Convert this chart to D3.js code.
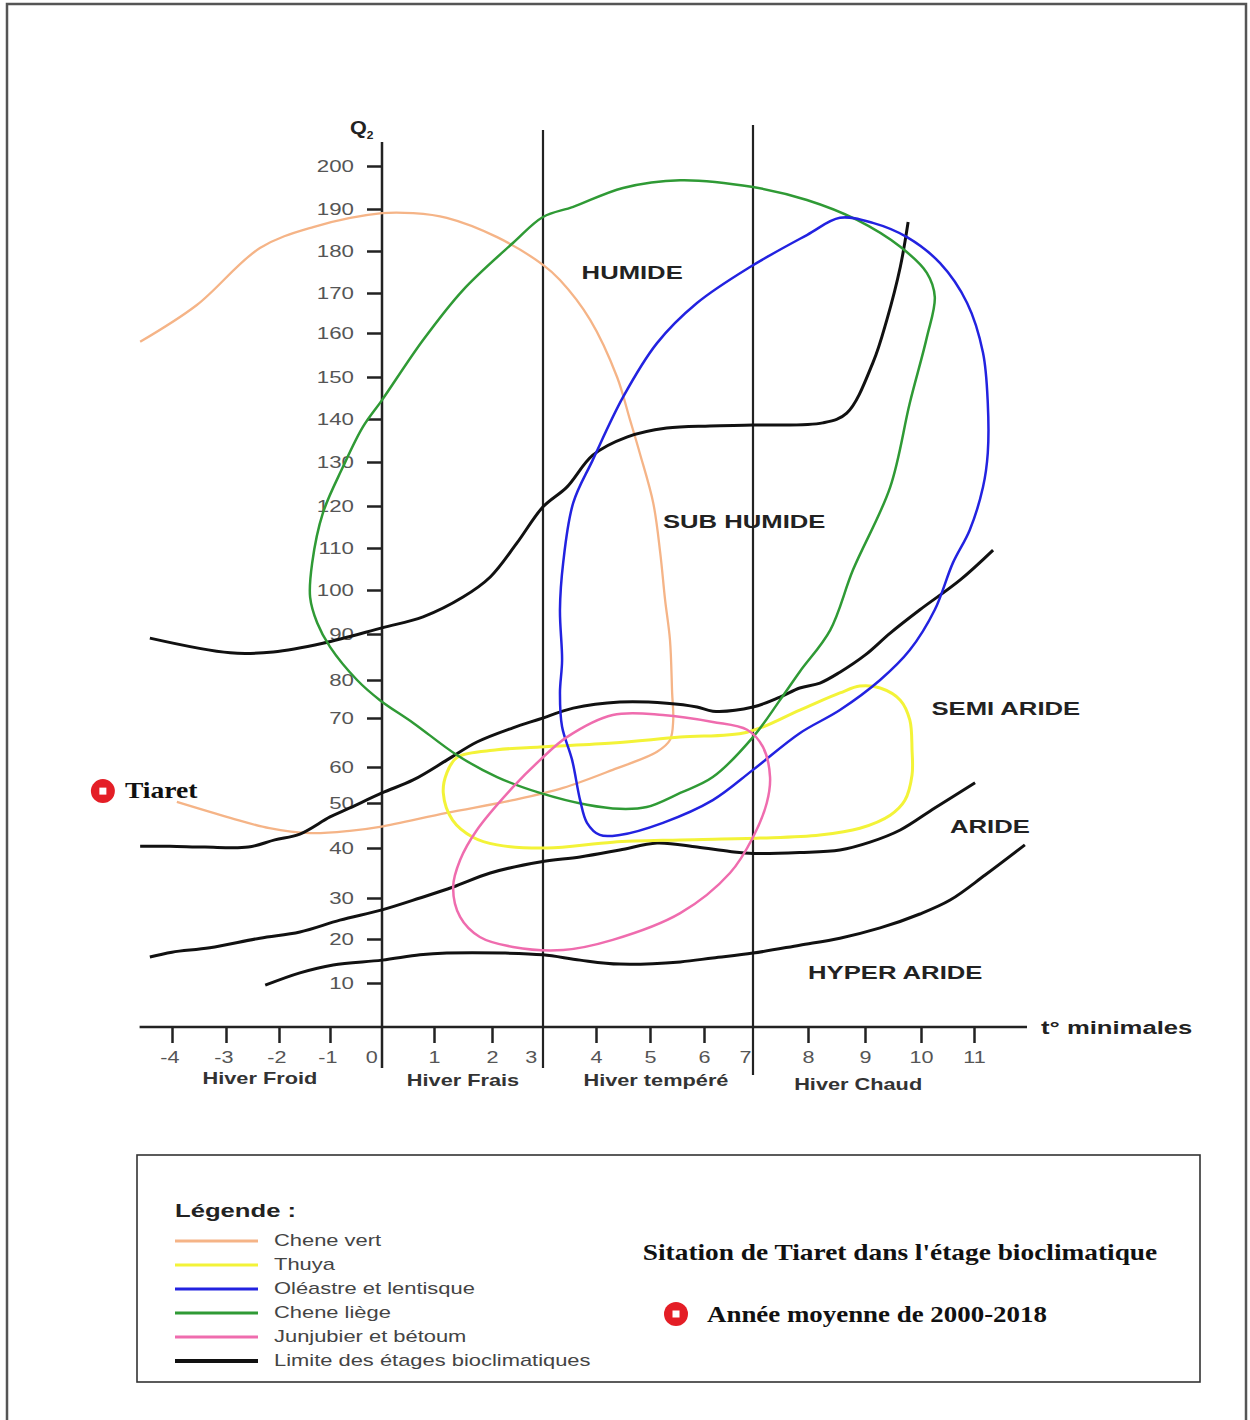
<!DOCTYPE html>
<html>
<head>
<meta charset="utf-8">
<script src="https://cdn.jsdelivr.net/npm/d3@7"></script>
<style>
  body { margin: 0; background: #fff; }
  svg { display: block; }
</style>
</head>
<body>
<svg id="chart" width="1250" height="1420"></svg>
<script>
// ---- data (m in °C, Q2) ----
var xTicks = [-4, -3, -2, -1, 0, 1, 2, 3, 4, 5, 6, 7, 8, 9, 10, 11];
var yTicks = [10, 20, 30, 40, 50, 60, 70, 80, 90, 100, 110, 120, 130, 140, 150, 160, 170, 180, 190, 200];
var winterZones = ["Hiver Froid", "Hiver Frais", "Hiver tempéré", "Hiver Chaud"];
var winterZoneCentres = [-2.36, 1.5, 5.11, 8.88];
var winterLimits = [3, 7];

var stageNames = ["HUMIDE", "SUB HUMIDE", "SEMI ARIDE", "ARIDE", "HYPER ARIDE"];
var stageAnchors = [[4.67, 175], [6.82, 116.4], [11.6, 72.6], [11.3, 44.9], [9.54, 12.5]];

// limits between bioclimatic stages
var limHumide = [[-4.41,89.1],[-2.92,85.9],[-2.11,86.1],[-1.14,88.0],[0,91.4],[0.79,93.9],[1.5,98.4],[1.97,103.1],[2.49,111.2],[3,119.8],[3.45,124.3],[3.94,131.6],[4.57,135.8],[5.31,137.9],[6.12,138.4],[7,138.6],[8.26,139.1],[8.68,141.4],[9.14,153.2],[9.39,163.3],[9.63,176.2],[9.77,186.9]];
var limSemiAride = [[-4.59,40.4],[-4.04,40.4],[-3.39,40.2],[-2.58,40.2],[-2.08,41.8],[-1.59,43.1],[-1,46.9],[-0.62,48.9],[0,52.8],[0.6,56.4],[1.22,61.4],[1.74,65.1],[2.41,68.0],[2.94,69.8],[3.57,72.6],[4.44,74.2],[5.31,73.9],[5.87,72.9],[6.18,71.8],[7,72.9],[7.49,75.5],[7.85,77.9],[8.21,79.2],[8.56,81.7],[9,85.4],[9.45,90.2],[9.98,95.5],[10.74,102.4],[11.36,109.5]];
var limAride = [[-4.41,15.9],[-4,17.0],[-3.3,18.0],[-2.36,20.2],[-1.59,21.7],[-0.81,24.6],[0,27.1],[0.73,30.0],[1.33,32.2],[1.97,35.0],[2.94,37.2],[3.7,38.2],[4.44,39.6],[5.13,41.1],[5.87,40.2],[6.53,39.3],[7,38.9],[7.85,39.1],[8.56,39.6],[9.09,41.3],[9.63,44.0],[10.26,48.9],[11.02,55.6]];
var limHyperAride = [[-2.26,9.5],[-1.59,12.3],[-0.94,14.1],[0,15.2],[0.73,16.4],[1.22,16.8],[2.22,16.8],[3,16.4],[3.7,15.2],[4.44,14.3],[5.56,14.8],[6.18,15.7],[7,16.8],[7.85,18.6],[8.56,20.2],[9.27,22.7],[9.98,26.1],[10.55,29.5],[11.21,34.6],[11.96,40.7]];

// species areas
var cheneVert = [[-4.59,158.0],[-3.54,167.0],[-2.36,180.7],[-1.33,185.7],[0,189.0],[0.6,189.0],[1.22,187.9],[2.1,183.3],[3,176.7],[3.32,173.1],[3.89,163.3],[4.39,150.0],[4.63,139.8],[4.81,132.1],[5.06,120.7],[5.19,108.8],[5.28,97.7],[5.37,88.7],[5.41,76.6],[5.43,69.6],[5.37,65.5],[5.13,63.1],[4.31,59.2],[3.38,54.2],[2.41,50.8],[1.22,47.8],[-0.04,44.7],[-0.62,43.8],[-1.39,43.3],[-2.18,44.4],[-2.92,46.7],[-3.91,50.3]];
var thuya = [[1.16,52.8],[1.22,58.3],[1.4,62.0],[2.1,63.5],[2.94,64.1],[4.31,64.9],[5.56,66.1],[6.88,67.1],[7.85,72.1],[8.56,76.6],[8.91,78.4],[9.27,77.9],[9.63,74.7],[9.8,69.6],[9.84,63.5],[9.84,57.8],[9.71,50.7],[9.45,47.3],[8.91,44.4],[8.21,42.9],[7.13,42.2],[5.56,41.8],[4.31,41.3],[3.08,40],[2.1,40.7],[1.67,42.4],[1.32,46.2]];
var oleastre = [[8.56,187.9],[9.14,186.7],[9.75,183.3],[10.36,177.1],[10.87,167.5],[11.17,155.5],[11.26,143.8],[11.26,132.1],[11.17,124.3],[10.92,114.3],[10.6,106.4],[10.26,95.5],[9.8,86.5],[9.27,80],[8.56,72.1],[7.85,66.9],[7,59.2],[6.18,50.8],[5.24,45.6],[4.44,42.9],[4.07,42.9],[3.83,45.6],[3.7,50.8],[3.55,61.4],[3.36,68.2],[3.32,76.6],[3.36,84.3],[3.32,95.5],[3.38,106.4],[3.57,120.7],[3.94,130.5],[4.5,145.2],[5.13,157.7],[5.87,167.5],[6.94,176.2],[7.98,183.8]];
var cheneLiege = [[5.56,196.7],[7,195.1],[7.98,192.1],[8.86,187.4],[9.63,181.0],[10.11,174.8],[10.26,169.0],[10.11,159.0],[9.8,143.8],[9.45,124.3],[8.79,104.8],[8.39,90.9],[7.85,81.8],[7.49,74.7],[7,66.1],[6.18,57.2],[5.56,52.8],[4.94,49.1],[4.44,48.7],[3.83,49.6],[2.94,52.8],[2.1,57.2],[1.4,62.4],[0.6,69.0],[-0.04,74.7],[-0.48,80],[-1,87.2],[-1.25,92.5],[-1.39,98.4],[-1.35,106.4],[-1.14,118.3],[-0.75,128.9],[-0.37,138.1],[0,144.5],[0.79,158.4],[1.5,170.7],[2.41,181.9],[3,188.1],[3.57,190.5],[4.5,194.9]];
var jujubier = [[4.31,70.8],[5.24,70.8],[6.18,69.2],[6.88,67.6],[7.18,64.1],[7.31,57.2],[7.25,50],[7,42.4],[6.53,35.0],[5.56,26.3],[4.31,19.8],[3.38,17.5],[2.41,18.2],[1.79,20.5],[1.45,25.4],[1.33,32.2],[1.45,37.6],[1.74,44.0],[2.41,54.4],[2.94,61.4],[3.45,66.1]];

// station
var stationName = "Tiaret";
var stationM = -5.28;
var stationQ2 = 53.3;

var legendLabels = ["Chene vert", "Thuya", "Oléastre et lentisque", "Chene liège", "Junjubier et bétoum", "Limite des étages bioclimatiques"];
var legendColors = ["#f5b487", "#f3f338", "#2222e0", "#2f9a35", "#ef6cae", "#111"];

// ---- setup ----
var svg = d3.select("#chart");
var sans = "'Liberation Sans', Arial, sans-serif";
var serif = "'Liberation Serif', 'Times New Roman', serif";

// the source picture is stretched sideways, so text gets a horizontal scale
function stretch(sel, sx) {
  sel.each(function() {
    var t = d3.select(this);
    var tx = +t.attr("x") || 0, ty = +t.attr("y") || 0;
    t.attr("x", null).attr("y", null)
      .attr("transform", "translate(" + tx + "," + ty + ") scale(" + sx + ",1)");
  });
}

// the hand-drawn axes are not evenly spaced, so piecewise scales
var x = d3.scaleLinear()
  .domain(xTicks)
  .range([172, 226, 279, 330, 382, 434, 492, 543, 596, 650, 704, 753, 808, 865, 921, 974]);
var y = d3.scaleLinear()
  .domain([0].concat(yTicks))
  .range([1027, 983, 939, 898, 848, 803, 767, 718, 680, 634, 590, 548, 506, 462, 419, 377, 333, 293, 251, 209, 166]);

// page frame
svg.append("rect")
  .attr("x", 7).attr("y", 4)
  .attr("width", 1239).attr("height", 1450)
  .attr("fill", "none")
  .attr("stroke", "#555")
  .attr("stroke-width", 2.5);

// ---- axes ----
var xAxis = svg.append("g")
  .attr("transform", "translate(0," + y(0) + ")")
  .call(d3.axisBottom(x)
    .tickValues(xTicks)
    .tickFormat(function(d) { return String(d); })
    .tickSize(16)
    .tickPadding(9));
xAxis.select(".domain").remove();
xAxis.selectAll(".tick line")
  .attr("stroke", "#222")
  .attr("stroke-width", 2.5)
  .attr("opacity", function(d) { return (d === 0 || winterLimits.indexOf(d) >= 0) ? 0 : 1; });
xAxis.selectAll(".tick text")
  .attr("font-family", sans)
  .attr("font-size", 16)
  .attr("fill", "#555")
  .attr("dx", function(d) { return d === 0 ? -8 : d === 3 ? -9 : d === 7 ? -6 : d < 0 ? -2 : 0; })
  .call(stretch, 1.35);

svg.append("line")
  .attr("x1", x(-4.6)).attr("x2", x(12))
  .attr("y1", y(0)).attr("y2", y(0))
  .attr("stroke", "#222").attr("stroke-width", 2.5);

var yAxis = svg.append("g")
  .attr("transform", "translate(" + x(0) + ",0)")
  .call(d3.axisLeft(y).tickValues(yTicks).tickSize(15).tickPadding(13));
yAxis.select(".domain").remove();
yAxis.selectAll(".tick line").attr("stroke", "#222").attr("stroke-width", 2.5);
yAxis.selectAll(".tick text")
  .attr("font-family", sans)
  .attr("font-size", 16.5)
  .attr("fill", "#555")
  .call(stretch, 1.35);

svg.append("line")
  .attr("x1", x(0)).attr("x2", x(0))
  .attr("y1", y(200) - 24).attr("y2", y(0) + 41)
  .attr("stroke", "#222").attr("stroke-width", 2.5);

// winter limits (m = 3 and m = 7)
svg.selectAll(".wlim")
  .data(winterLimits)
  .enter()
  .append("line")
  .attr("class", "wlim")
  .attr("x1", function(d) { return x(d); })
  .attr("x2", function(d) { return x(d); })
  .attr("y1", function(d) { return d === 3 ? y(200) - 36 : y(200) - 41; })
  .attr("y2", function(d) { return d === 3 ? y(0) + 41 : y(0) + 48; })
  .attr("stroke", "#222")
  .attr("stroke-width", 2.2);

// axis titles
var q = svg.append("text")
  .attr("x", x(0) - 32).attr("y", y(200) - 32)
  .attr("font-family", sans).attr("font-weight", "bold")
  .attr("font-size", 18).attr("fill", "#222");
q.append("tspan").text("Q");
q.append("tspan").attr("font-size", 10).attr("dy", 5).text("2");
q.call(stretch, 1.2);

svg.append("text")
  .attr("x", x(12) + 14).attr("y", y(0) + 7)
  .attr("font-family", sans).attr("font-weight", "bold")
  .attr("font-size", 19).attr("fill", "#222")
  .text("t° minimales")
  .call(stretch, 1.35);

svg.selectAll(".winter")
  .data(winterZones)
  .enter()
  .append("text")
  .attr("class", "winter")
  .attr("x", function(d, i) { return x(winterZoneCentres[i]); })
  .attr("y", function(d, i) { return y(0) + 59 + (i === 3 ? 4 : i === 0 ? -2 : 0); })
  .attr("text-anchor", "middle")
  .attr("font-family", sans).attr("font-weight", "bold")
  .attr("font-size", 16).attr("fill", "#333")
  .text(function(d) { return d; })
  .call(stretch, 1.36);

// ---- curves ----
var openLine = d3.line()
  .x(function(d) { return x(d[0]); })
  .y(function(d) { return y(d[1]); })
  .curve(d3.curveCatmullRom.alpha(0.5));
var closedLine = d3.line()
  .x(function(d) { return x(d[0]); })
  .y(function(d) { return y(d[1]); })
  .curve(d3.curveCatmullRomClosed.alpha(0.5));

svg.append("path").datum(cheneVert)
  .attr("d", openLine).attr("fill", "none")
  .attr("stroke", legendColors[0]).attr("stroke-width", 2.3);

[limHumide, limSemiAride, limAride, limHyperAride].forEach(function(lim) {
  svg.append("path").datum(lim)
    .attr("d", openLine).attr("fill", "none")
    .attr("stroke", "#111").attr("stroke-width", 3)
    .attr("stroke-linejoin", "round");
});

var areas = [thuya, cheneLiege, oleastre, jujubier];
var areaColors = [legendColors[1], legendColors[3], legendColors[2], legendColors[4]];
svg.selectAll(".area")
  .data(areas)
  .enter()
  .append("path")
  .attr("class", "area")
  .attr("d", closedLine)
  .attr("fill", "none")
  .attr("stroke", function(d, i) { return areaColors[i]; })
  .attr("stroke-width", function(d, i) { return i === 0 ? 3 : 2.5; });

// stage labels
svg.selectAll(".stage")
  .data(stageNames)
  .enter()
  .append("text")
  .attr("class", "stage")
  .attr("x", function(d, i) { return x(stageAnchors[i][0]); })
  .attr("y", function(d, i) { return y(stageAnchors[i][1]); })
  .attr("dy", "0.35em")
  .attr("text-anchor", "middle")
  .attr("font-family", sans).attr("font-weight", "bold")
  .attr("font-size", 19).attr("fill", "#222")
  .text(function(d) { return d; })
  .call(stretch, 1.35);

// ---- station marker ----
function marker(g, cx, cy) {
  g.append("circle").attr("cx", cx).attr("cy", cy).attr("r", 12).attr("fill", "#e41e26");
  g.append("rect").attr("x", cx - 3.5).attr("y", cy - 3.5).attr("width", 7).attr("height", 7).attr("fill", "#fff");
}
marker(svg, x(stationM), y(stationQ2));
svg.append("text")
  .attr("x", x(stationM) + 22).attr("y", y(stationQ2) + 7)
  .attr("font-family", serif).attr("font-weight", "bold")
  .attr("font-size", 23).attr("fill", "#111")
  .text(stationName)
  .call(stretch, 1.2);

// ---- legend ----
var legend = svg.append("g");
legend.append("rect")
  .attr("x", 137).attr("y", 1155)
  .attr("width", 1063).attr("height", 227)
  .attr("fill", "#fff").attr("stroke", "#333").attr("stroke-width", 1.6);
legend.append("text")
  .attr("x", 175).attr("y", 1217)
  .attr("font-family", sans).attr("font-weight", "bold")
  .attr("font-size", 19).attr("fill", "#222")
  .text("Légende :")
  .call(stretch, 1.35);

var rows = legend.selectAll(".row")
  .data(legendLabels)
  .enter()
  .append("g")
  .attr("class", "row")
  .attr("transform", function(d, i) { return "translate(175," + (1241 + i * 24) + ")"; });
rows.append("line")
  .attr("x1", 0).attr("x2", 83)
  .attr("stroke", function(d, i) { return legendColors[i]; })
  .attr("stroke-width", function(d, i) { return i === 5 ? 4 : 3; });
rows.append("text")
  .attr("x", 99).attr("y", 5)
  .attr("font-family", sans).attr("font-size", 16).attr("fill", "#444")
  .text(function(d) { return d; })
  .call(stretch, 1.37);

legend.append("text")
  .attr("x", 900).attr("y", 1260)
  .attr("text-anchor", "middle")
  .attr("font-family", serif).attr("font-weight", "bold")
  .attr("font-size", 23).attr("fill", "#111")
  .text("Sitation de Tiaret dans l'étage bioclimatique")
  .call(stretch, 1.19);
marker(legend, 676, 1314);
legend.append("text")
  .attr("x", 707).attr("y", 1322)
  .attr("font-family", serif).attr("font-weight", "bold")
  .attr("font-size", 23).attr("fill", "#111")
  .text("Année moyenne de 2000-2018")
  .call(stretch, 1.17);
</script>
</body>
</html>
